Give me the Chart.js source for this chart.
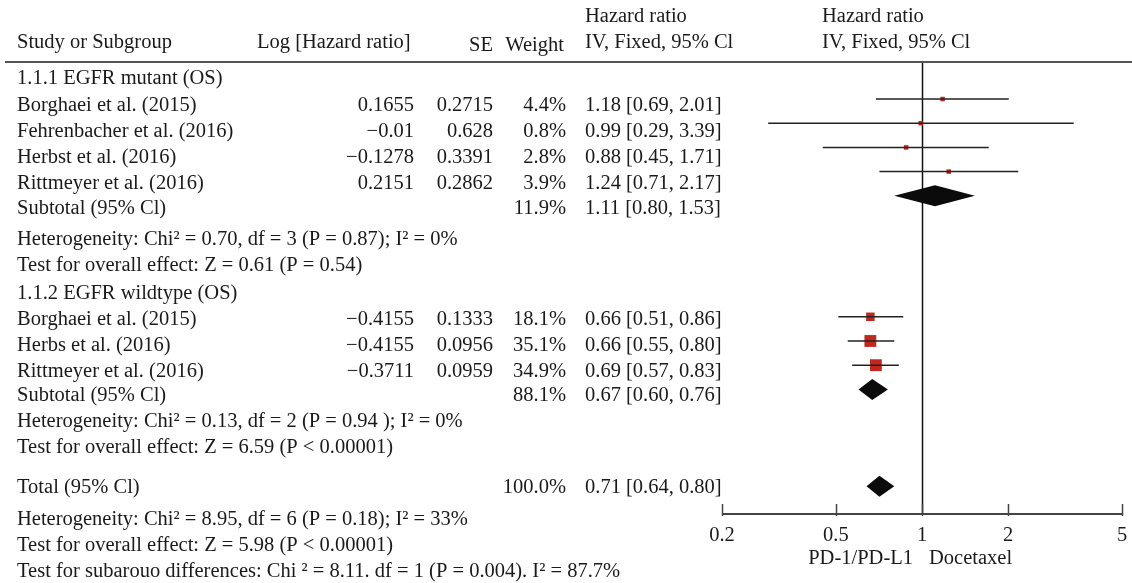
<!DOCTYPE html>
<html>
<head>
<meta charset="utf-8">
<script src="https://cdn.jsdelivr.net/npm/chart.js@4.4.1/dist/chart.umd.min.js"></script>
<style>
  html, body { margin: 0; background: #fff; }
  #wrap { width: 1132px; height: 583px; }
</style>
</head>
<body>
<div id="wrap"><canvas id="forest" width="1132" height="583"></canvas></div>
<script>
// study rows
const studies = ["Borghaei et al. (2015)", "Fehrenbacher et al. (2016)", "Herbst et al. (2016)", "Rittmeyer et al. (2016)",
  "Borghaei et al. (2015)", "Herbs et al. (2016)", "Rittmeyer et al. (2016)"];
const logHR = [0.1655, -0.01, -0.1278, 0.2151, -0.4155, -0.4155, -0.3711];
const se = [0.2715, 0.628, 0.3391, 0.2862, 0.1333, 0.0956, 0.0959];
const weight = [4.4, 0.8, 2.8, 3.9, 18.1, 35.1, 34.9];
const hr = [1.18, 0.99, 0.88, 1.24, 0.66, 0.66, 0.69];
const lo = [0.69, 0.29, 0.45, 0.71, 0.51, 0.55, 0.57];
const hi = [2.01, 3.39, 1.71, 2.17, 0.86, 0.80, 0.83];
const studyRow = [0, 1, 2, 3, 9, 10, 11];

// subtotal / total rows
const pooledLabels = ["Subtotal (95% Cl)", "Subtotal (95% Cl)", "Total (95% Cl)"];
const pooledWeight = [11.9, 88.1, 100.0];
const pooledHR = [1.11, 0.67, 0.71];
const pooledLo = [0.80, 0.60, 0.64];
const pooledHi = [1.53, 0.76, 0.80];
const pooledRow = [4, 12, 16];

const groups = ["1.1.1 EGFR mutant (OS)", "1.1.2 EGFR wildtype (OS)"];
const notes = [
  "Heterogeneity: Chi² = 0.70, df = 3 (P = 0.87); I² = 0%",
  "Test for overall effect: Z = 0.61 (P = 0.54)",
  "Heterogeneity: Chi² = 0.13, df = 2 (P = 0.94 ); I² = 0%",
  "Test for overall effect: Z = 6.59 (P < 0.00001)",
  "Heterogeneity: Chi² = 8.95, df = 6 (P = 0.18); I² = 33%",
  "Test for overall effect: Z = 5.98 (P < 0.00001)",
  "Test for subarouo differences: Chi ² = 8.11. df = 1 (P = 0.004). I² = 87.7%"
];
const xTicks = [0.2, 0.5, 1, 2, 5];
const favours = ["PD-1/PD-L1", "Docetaxel"];

// layout of the text table (pixel rows)
const FONT = '20.5px "Liberation Serif"';
const INK = "#1a1a1a";
const groupY = [79, 294];
const studyY = [106, 132, 158, 184, 320, 346, 372];
const pooledY = [209, 396, 488];
const noteY = [240, 266, 422, 448, 520, 546, 572];
const colStudy = 17, colLog = 414, colSE = 493, colW = 566, colCI = 585;

const fmt = v => String(v).replace("-", "\u2212");
const ci = (h, l, u) => `${h.toFixed(2)} [${l.toFixed(2)}, ${u.toFixed(2)}]`;

const tablePlugin = {
  id: "table",
  beforeDatasetsDraw(chart) {
    const { ctx, chartArea } = chart;
    const x = chart.scales.x;
    const px = Math.round(x.getPixelForValue(1)) + 0.5;
    ctx.save();
    ctx.strokeStyle = "#111";
    ctx.lineWidth = 1.5;
    ctx.beginPath();
    ctx.moveTo(px, chartArea.top);
    ctx.lineTo(px, chartArea.bottom);
    ctx.stroke();
    ctx.restore();
  },
  afterDatasetsDraw(chart) {
    const { ctx } = chart;
    const x = chart.scales.x, y = chart.scales.y;
    ctx.save();
    ctx.fillStyle = "#0b0b0b";
    pooledHR.forEach((h, i) => {
      const cy = y.getPixelForValue(pooledRow[i]);
      ctx.beginPath();
      ctx.moveTo(x.getPixelForValue(pooledLo[i]), cy);
      ctx.lineTo(x.getPixelForValue(h), cy - 10.5);
      ctx.lineTo(x.getPixelForValue(pooledHi[i]), cy);
      ctx.lineTo(x.getPixelForValue(h), cy + 10.5);
      ctx.closePath();
      ctx.fill();
    });
    ctx.restore();
  },
  afterDraw(chart) {
    const { ctx, chartArea } = chart;
    const x = chart.scales.x;
    ctx.save();
    // axis line and ticks
    ctx.strokeStyle = "#444";
    ctx.lineWidth = 2;
    ctx.beginPath();
    ctx.moveTo(chartArea.left, chartArea.bottom);
    ctx.lineTo(chartArea.right, chartArea.bottom);
    ctx.stroke();
    ctx.lineWidth = 1.5;
    xTicks.forEach(v => {
      const px = Math.round(x.getPixelForValue(v)) + 0.5;
      ctx.beginPath();
      ctx.moveTo(px, chartArea.bottom - 10);
      ctx.lineTo(px, chartArea.bottom + 2);
      ctx.stroke();
    });
    // header rule
    ctx.strokeStyle = "#555";
    ctx.lineWidth = 2;
    ctx.beginPath();
    ctx.moveTo(5, chartArea.top);
    ctx.lineTo(1132, chartArea.top);
    ctx.stroke();

    ctx.font = FONT;
    ctx.fillStyle = INK;
    ctx.textBaseline = "middle";
    ctx.textAlign = "left";
    ctx.fillText("Study or Subgroup", colStudy, 43);
    ctx.fillText("Log [Hazard ratio]", 257, 43);
    ctx.fillText("Hazard ratio", colCI, 17);
    ctx.fillText("IV, Fixed, 95% Cl", colCI, 43);
    ctx.fillText("Hazard ratio", 822, 17);
    ctx.fillText("IV, Fixed, 95% Cl", 822, 43);
    ctx.textAlign = "right";
    ctx.fillText("SE", colSE, 46);
    ctx.fillText("Weight", 564, 46);
    ctx.textAlign = "left";

    groups.forEach((g, i) => ctx.fillText(g, colStudy, groupY[i]));
    notes.forEach((n, i) => ctx.fillText(n, colStudy, noteY[i]));
    studies.forEach((s, i) => {
      ctx.textAlign = "left";
      ctx.fillText(s, colStudy, studyY[i]);
      ctx.fillText(ci(hr[i], lo[i], hi[i]), colCI, studyY[i]);
      ctx.textAlign = "right";
      ctx.fillText(fmt(logHR[i]), colLog, studyY[i]);
      ctx.fillText(fmt(se[i]), colSE, studyY[i]);
      ctx.fillText(weight[i].toFixed(1) + "%", colW, studyY[i]);
    });
    pooledLabels.forEach((s, i) => {
      ctx.textAlign = "left";
      ctx.fillText(s, colStudy, pooledY[i]);
      ctx.fillText(ci(pooledHR[i], pooledLo[i], pooledHi[i]), colCI, pooledY[i]);
      ctx.textAlign = "right";
      ctx.fillText(pooledWeight[i].toFixed(1) + "%", colW, pooledY[i]);
    });

    const one = x.getPixelForValue(1);
    ctx.textAlign = "right";
    ctx.fillText(favours[0], one - 9, 559);
    ctx.textAlign = "left";
    ctx.fillText(favours[1], one + 7, 559);
    ctx.restore();
  }
};

const ciSets = studies.map((s, i) => ({
  data: [{ x: lo[i], y: studyRow[i] }, { x: hi[i], y: studyRow[i] }],
  showLine: true,
  borderColor: "#222",
  borderWidth: 1.5,
  pointRadius: 0
}));

const squareSet = {
  data: studies.map((s, i) => ({ x: hr[i], y: studyRow[i], w: weight[i] })),
  pointStyle: "rect",
  pointRadius: c => Math.max(4.5, 2 * Math.sqrt(c.raw.w)) / Math.SQRT2,
  backgroundColor: "#c1271d",
  borderWidth: 0
};

new Chart(document.getElementById("forest"), {
  type: "scatter",
  data: { datasets: [...ciSets, squareSet] },
  plugins: [tablePlugin],
  options: {
    responsive: false,
    animation: false,
    devicePixelRatio: 1,
    layout: { padding: { left: 722, right: 10, top: 62, bottom: 0 } },
    plugins: { legend: { display: false }, tooltip: { enabled: false } },
    scales: {
      x: {
        type: "logarithmic",
        min: 0.2,
        max: 5,
        afterBuildTicks: s => { s.ticks = xTicks.map(v => ({ value: v })); },
        afterFit: s => { s.height = 69; },
        grid: { display: false },
        border: { display: false },
        ticks: {
          autoSkip: false,
          maxRotation: 0,
          padding: 1,
          color: INK,
          font: { family: "Liberation Serif", size: 20.5 },
          callback: v => String(v)
        }
      },
      y: {
        type: "linear",
        display: false,
        reverse: true,
        min: -1.53,
        max: 17.15
      }
    }
  }
});
</script>
</body>
</html>
